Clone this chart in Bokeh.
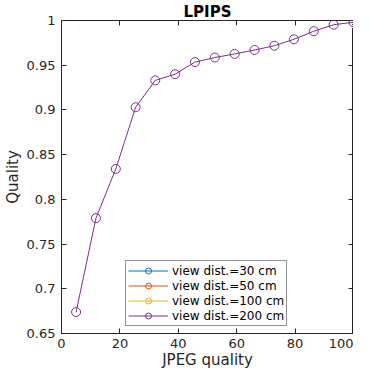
from bokeh.plotting import figure
from bokeh.models import FixedTicker, LinearAxis, Range1d, Legend, LegendItem
from bokeh.embed import file_html
from bokeh.resources import INLINE

jpeg_quality = [5, 11.8, 18.6, 25.4, 32.1, 38.9, 45.7, 52.5, 59.3, 66.1, 72.9, 79.6, 86.4, 93.2, 100]
quality_30 = [0.674, 0.779, 0.834, 0.903, 0.933, 0.940, 0.9535, 0.9586, 0.9626, 0.967, 0.9718, 0.979, 0.988, 0.9953, 0.998]
quality_50 = [0.674, 0.779, 0.834, 0.903, 0.933, 0.940, 0.9535, 0.9586, 0.9626, 0.967, 0.9718, 0.979, 0.988, 0.9953, 0.998]
quality_100 = [0.674, 0.779, 0.834, 0.903, 0.933, 0.940, 0.9535, 0.9586, 0.9626, 0.967, 0.9718, 0.979, 0.988, 0.9953, 0.998]
quality_200 = [0.674, 0.779, 0.834, 0.903, 0.933, 0.940, 0.9535, 0.9586, 0.9626, 0.967, 0.9718, 0.979, 0.988, 0.9953, 0.998]

series_labels = ["view dist.=30 cm", "view dist.=50 cm", "view dist.=100 cm", "view dist.=200 cm"]
series_colors = ["#0072BD", "#D95319", "#EDB120", "#7E2F8E"]
x_ticks = [0, 20, 40, 60, 80, 100]
y_ticks = [0.65, 0.7, 0.75, 0.8, 0.85, 0.9, 0.95, 1.0]
y_tick_labels = ["0.65", "0.7", "0.75", "0.8", "0.85", "0.9", "0.95", "1"]

FONT = "DejaVu Sans"
INK = "#262626"

p = figure(width=353, height=371, output_backend="svg", toolbar_location=None,
           x_range=Range1d(0, 100), y_range=Range1d(0.65, 1.0),
           title="LPIPS", min_border_left=0, min_border_right=0,
           min_border_top=0, min_border_bottom=0)
p.title.align = "center"
p.title.text_font = FONT
p.title.text_font_size = "15px"
p.title.text_font_style = "bold"
p.title.text_color = "#000000"
p.title.standoff = 0
p.title.offset = 0

p.grid.visible = False
p.outline_line_color = INK
p.background_fill_color = "white"
p.border_fill_color = "white"

def style_axis(ax, ticks, labels=True):
    ax.ticker = FixedTicker(ticks=ticks)
    ax.major_tick_in = 5
    ax.major_tick_out = 0
    ax.minor_tick_in = 0
    ax.minor_tick_out = 0
    ax.axis_line_color = INK
    ax.major_tick_line_color = INK
    ax.major_label_text_color = INK
    ax.major_label_text_font = FONT
    ax.major_label_text_font_size = "13px"
    ax.axis_label_text_font = FONT
    ax.axis_label_text_font_size = "15px"
    ax.axis_label_text_font_style = "normal"
    ax.axis_label_text_color = INK
    if not labels:
        ax.major_label_overrides = {t: "" for t in ticks}
        ax.major_label_standoff = 0

style_axis(p.xaxis[0], x_ticks)
style_axis(p.yaxis[0], y_ticks)
p.xaxis.axis_label = "JPEG quality"
p.yaxis.axis_label = "Quality"
p.yaxis.major_label_overrides = {t: l for t, l in zip(y_ticks, y_tick_labels)}
p.xaxis.major_label_standoff = 5
p.yaxis.major_label_standoff = 6
p.xaxis.axis_label_standoff = 0
p.yaxis.axis_label_standoff = 2

top_ax = LinearAxis()
style_axis(top_ax, x_ticks, labels=False)
p.add_layout(top_ax, "above")
right_ax = LinearAxis()
style_axis(right_ax, y_ticks, labels=False)
p.add_layout(right_ax, "right")

items = []
all_series = [quality_30, quality_50, quality_100, quality_200]
for i, (lab, col, ys) in enumerate(zip(series_labels, series_colors, all_series)):
    if i == len(all_series) - 1:
        # white underlay so the topmost series shows in its own colour
        p.line(jpeg_quality, ys, line_color="white", line_width=3)
        p.scatter(jpeg_quality, ys, marker="circle", size=9, fill_color=None,
                  line_color="white", line_width=3)
    r1 = p.line(jpeg_quality, ys, line_color=col, line_width=1)
    r2 = p.scatter(jpeg_quality, ys, marker="circle", size=9, fill_color=None,
                   line_color=col, line_width=1)
    items.append(LegendItem(label=lab, renderers=[r1, r2]))

legend = Legend(items=items, location=(64, 7))
legend.label_text_font = FONT
legend.label_text_font_size = "12px"
legend.label_text_color = "#000000"
legend.glyph_width = 40
legend.glyph_height = 15
legend.label_height = 15
legend.label_standoff = 4
legend.spacing = 0
legend.padding = 2
legend.margin = 0
legend.border_line_color = INK
legend.border_line_width = 1
legend.background_fill_alpha = 1
p.add_layout(legend, "center")

open("out.html", "w").write(file_html(p, INLINE))
